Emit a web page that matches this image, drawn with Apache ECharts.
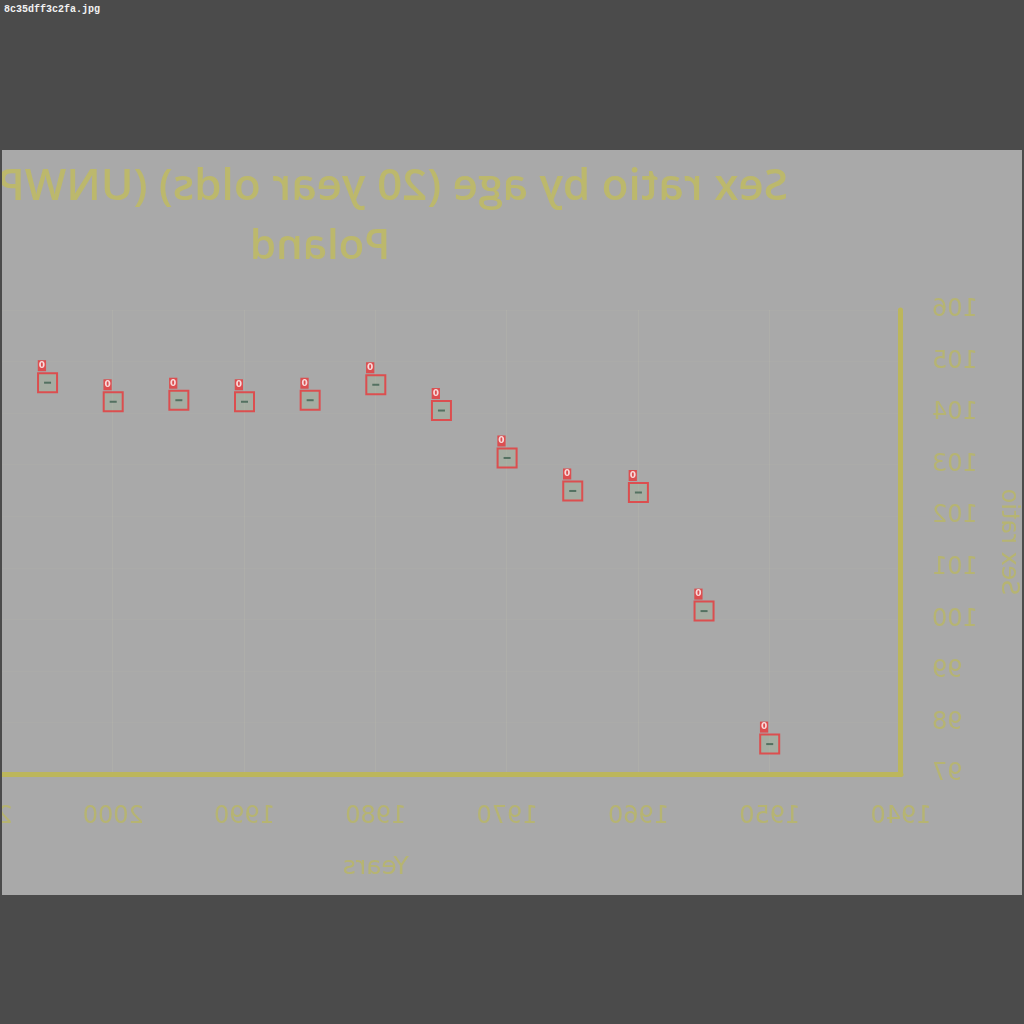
<!DOCTYPE html>
<html>
<head>
<meta charset="utf-8">
<script src="https://cdn.jsdelivr.net/npm/echarts@6/dist/echarts.min.js"></script>
<style>
  html, body { margin: 0; padding: 0; width: 1024px; height: 1024px; background: #4b4b4b; overflow: hidden; }
  #fname { position: absolute; left: 4px; top: 4px; font: bold 10px "Liberation Mono", monospace; color: #f2f2f2; }
  #wrap { position: absolute; left: 2px; top: 150px; width: 1020px; height: 745px; overflow: hidden; background: #a9a9a9; }
  #chart { position: absolute; left: -380px; top: 0; width: 1400px; height: 745px; transform: scaleX(-1); }
</style>
</head>
<body>
<div id="fname">8c35dff3c2fa.jpg</div>
<div id="wrap"><div id="chart"></div></div>
<script>
// ---- data ----
const years = [1950, 1955, 1960, 1965, 1970, 1975, 1980, 1985, 1990, 1995, 2000, 2005];
const sexRatio = [97.58, 100.16, 102.46, 102.49, 103.13, 104.05, 104.55, 104.25, 104.22, 104.25, 104.22, 104.59];
const boxLabels = ['0', '0', '0', '0', '0', '0', '0', '0', '0', '0', '0', '0'];
const xRange = [1940, 2020, 10];
const yRange = [97, 106, 1];
const titleText = 'Sex ratio by age (20 year olds) (UNWPP)';
const subtitleText = 'Poland';
const xName = 'Years';
const yName = 'Sex ratio';

const txt = '#bcb86c';
const lblCol = '#b6b472';
const axisCol = '#bcb65c';
const chart = echarts.init(document.getElementById('chart'));
const pts = years.map((y, i) => [y, sexRatio[i]]);

chart.setOption({
  animation: false,
  backgroundColor: 'transparent',
  title: [
    { text: titleText, left: 234, top: 15, textAlign: 'left', padding: 0,
      textStyle: { fontFamily: 'Open Sans', fontSize: 44, fontWeight: 600, color: txt } },
    { text: subtitleText, left: 702, top: 76, textAlign: 'center', padding: 0,
      textStyle: { fontFamily: 'Open Sans', fontSize: 42, fontWeight: 600, color: txt } }
  ],
  grid: { left: 121, top: 160, bottom: 121, right: 228.6, containLabel: false, outerBoundsMode: 'none' },
  xAxis: {
    type: 'value', min: xRange[0], max: xRange[1], interval: xRange[2],
    name: xName, nameLocation: 'middle', nameGap: 81,
    nameTextStyle: { fontFamily: 'DejaVu Sans', fontSize: 25, color: lblCol },
    axisLine: { show: true, onZero: false, lineStyle: { color: axisCol, width: 5 } },
    axisTick: { show: false },
    axisLabel: { margin: 31, fontFamily: 'DejaVu Sans', fontSize: 24, color: lblCol, formatter: v => String(v) },
    splitLine: { show: true, lineStyle: { color: 'rgba(205,205,175,0.14)', width: 1 } }
  },
  yAxis: {
    type: 'value', min: yRange[0], max: yRange[1], interval: yRange[2],
    name: yName, nameLocation: 'middle', nameGap: 95,
    nameTextStyle: { fontFamily: 'DejaVu Sans', fontSize: 24, color: lblCol },
    axisLine: { show: true, onZero: false, lineStyle: { color: axisCol, width: 5 } },
    axisTick: { show: false },
    axisLabel: { margin: 31, fontFamily: 'DejaVu Sans', fontSize: 24, color: lblCol, formatter: v => String(v) },
    splitLine: { show: true, lineStyle: { color: 'rgba(205,205,175,0.08)', width: 1 } }
  },
  series: [
    {
      type: 'scatter', name: 'box', data: pts, symbol: 'rect', symbolSize: 19,
      itemStyle: { color: 'rgba(150,190,140,0.28)', borderColor: '#e8373a', borderWidth: 2 },
      label: {
        show: true, formatter: p => boxLabels[p.dataIndex],
        position: [12, -12], align: 'left', verticalAlign: 'top',
        backgroundColor: '#e8373a', color: '#ffffff', padding: [1, 1, 1, 1],
        fontFamily: 'DejaVu Sans', fontWeight: 'bold', fontSize: 9, lineHeight: 9
      },
      emphasis: { disabled: true }, z: 3
    },
    {
      type: 'scatter', name: 'point', data: pts, symbol: 'rect', symbolSize: [7, 2],
      itemStyle: { color: '#3f6150' }, emphasis: { disabled: true }, z: 4
    }
  ]
});
</script>
</body>
</html>
